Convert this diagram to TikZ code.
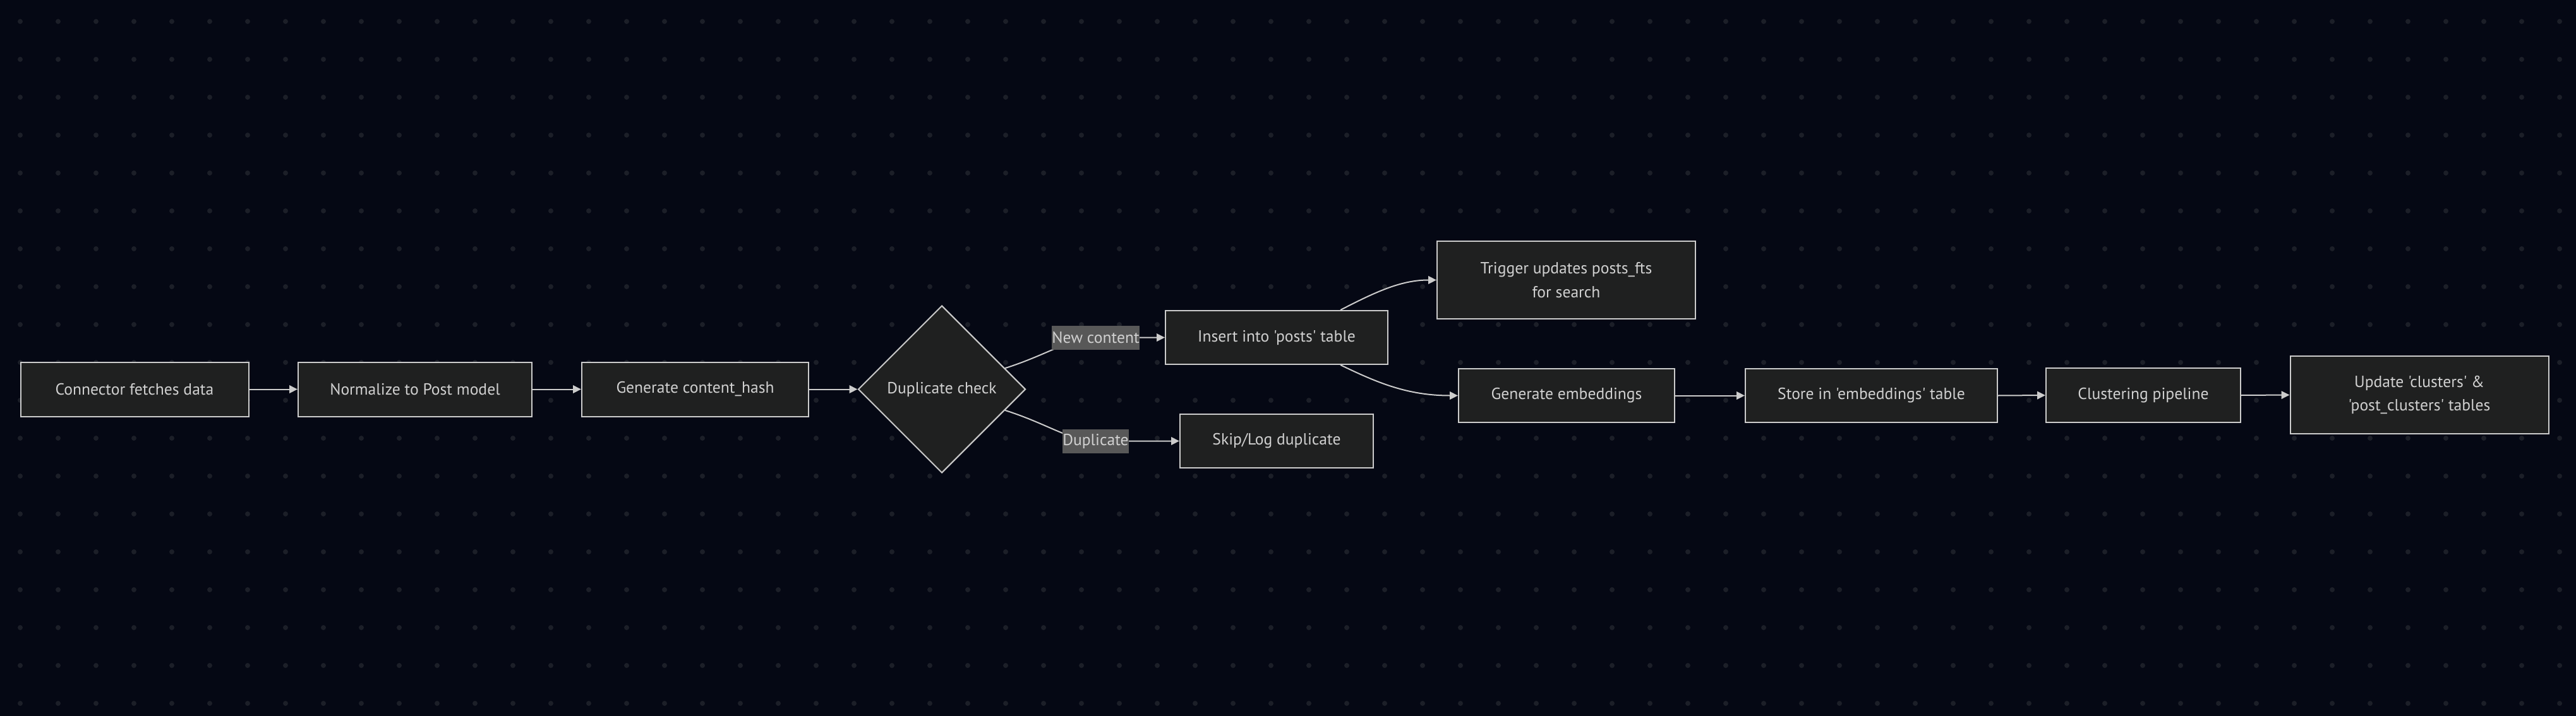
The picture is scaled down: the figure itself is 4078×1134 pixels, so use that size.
\documentclass[tikz,border=0pt]{standalone}
\usepackage{fontspec}
\newfontfamily\nf{PT Sans}
\usetikzlibrary{shapes.geometric,arrows.meta,calc}
\definecolor{bg}{HTML}{050814}
\definecolor{dotc}{HTML}{1C1F28}
\definecolor{boxfill}{HTML}{1F2020}
\definecolor{boxline}{HTML}{CCCCCC}
\definecolor{txt}{HTML}{D0D0D0}
\definecolor{lblbg}{HTML}{585858}
\begin{document}
\begin{tikzpicture}[x=1pt,y=-1pt,
  proc/.style={draw=boxline, line width=2pt, fill=boxfill, text=txt, align=center,
    inner sep=0pt, font=\nf\fontsize{25.6}{37.5}\selectfont, minimum height=86pt},
  dec/.style={diamond, shape aspect=1, draw=boxline, line width=2pt, fill=boxfill, text=txt,
    inner sep=0pt, font=\nf\fontsize{25.6}{37.5}\selectfont, minimum width=265pt, minimum height=265pt},
  edge/.style={draw=boxline, line width=2pt, -{Triangle[length=13pt,width=12.5pt]}},
  lbl/.style={fill=lblbg, text=txt, inner sep=0pt, minimum height=38pt,
    font=\nf\fontsize{25.6}{37.5}\selectfont}]
\fill[bg] (0,0) rectangle (4078,1134);
\useasboundingbox (0,0) rectangle (4078,1134);
\foreach \i in {0,...,67}{\foreach \j in {0,...,18}{\fill[dotc] (32+60*\i,34+60*\j) circle (4pt);}}
% nodes
\node[proc, minimum width=361pt] (conn) at (213,616.5) {Connector fetches data};
\node[proc, minimum width=370pt] (norm) at (657,616.5) {Normalize to Post model};
\node[proc, minimum width=359pt] (hash) at (1100.5,616.5) {Generate content\_hash};
\node[dec] (dup) at (1491,616.5) {Duplicate check};
\node[proc, minimum width=352pt, minimum height=85pt] (insert) at (2021,534.5) {Insert into 'posts' table};
\node[proc, minimum width=306pt, minimum height=85pt] (skip) at (2021,698.5) {Skip/Log duplicate};
\node[proc, minimum width=409pt, minimum height=123pt] (trig) at (2479.5,443.5) {Trigger updates posts\_fts\\for search};
\node[proc, minimum width=342pt, minimum height=85pt] (embed) at (2480,626.5) {Generate embeddings};
\node[proc, minimum width=399pt, minimum height=85pt] (store) at (2962.5,626.5) {Store in 'embeddings' table};
\node[proc, minimum width=308pt, minimum height=86pt] (clus) at (3393,626) {Clustering pipeline};
\node[proc, minimum width=409pt, minimum height=123pt] (upd) at (3830,625.5) {Update 'clusters' \&\\'post\_clusters' tables};
% edges
\draw[edge] (conn.east) -- (norm.west);
\draw[edge] (norm.east) -- (hash.west);
\draw[edge] (hash.east) -- (dup.west);
\coordinate (lnew) at (1734.5,535);
\coordinate (ldup) at (1734.5,698.5);
\draw[edge] ($(dup.north)!0.75!(dup.east)$) .. controls (1658,562) and (1694,535) .. (lnew) -- (insert.west);
\draw[edge] ($(dup.south)!0.75!(dup.east)$) .. controls (1658,671) and (1694,698.5) .. (ldup) -- (skip.west);
\node[lbl] (lblnew) at (lnew) {New content};
\node[lbl] (lbldup) at (ldup) {Duplicate};
\draw[edge] ($(insert.north)+(101,0)$) .. controls +(58,-30) and +(-55,0) .. (trig.west);
\draw[edge] ($(insert.south)+(101,0)$) .. controls +(58,28) and +(-80,0) .. (embed.west);
\draw[edge] (embed.east) -- (store.west);
\draw[edge] (store.east) -- (clus.west);
\draw[edge] (clus.east) -- (upd.west);
\end{tikzpicture}
\end{document}
